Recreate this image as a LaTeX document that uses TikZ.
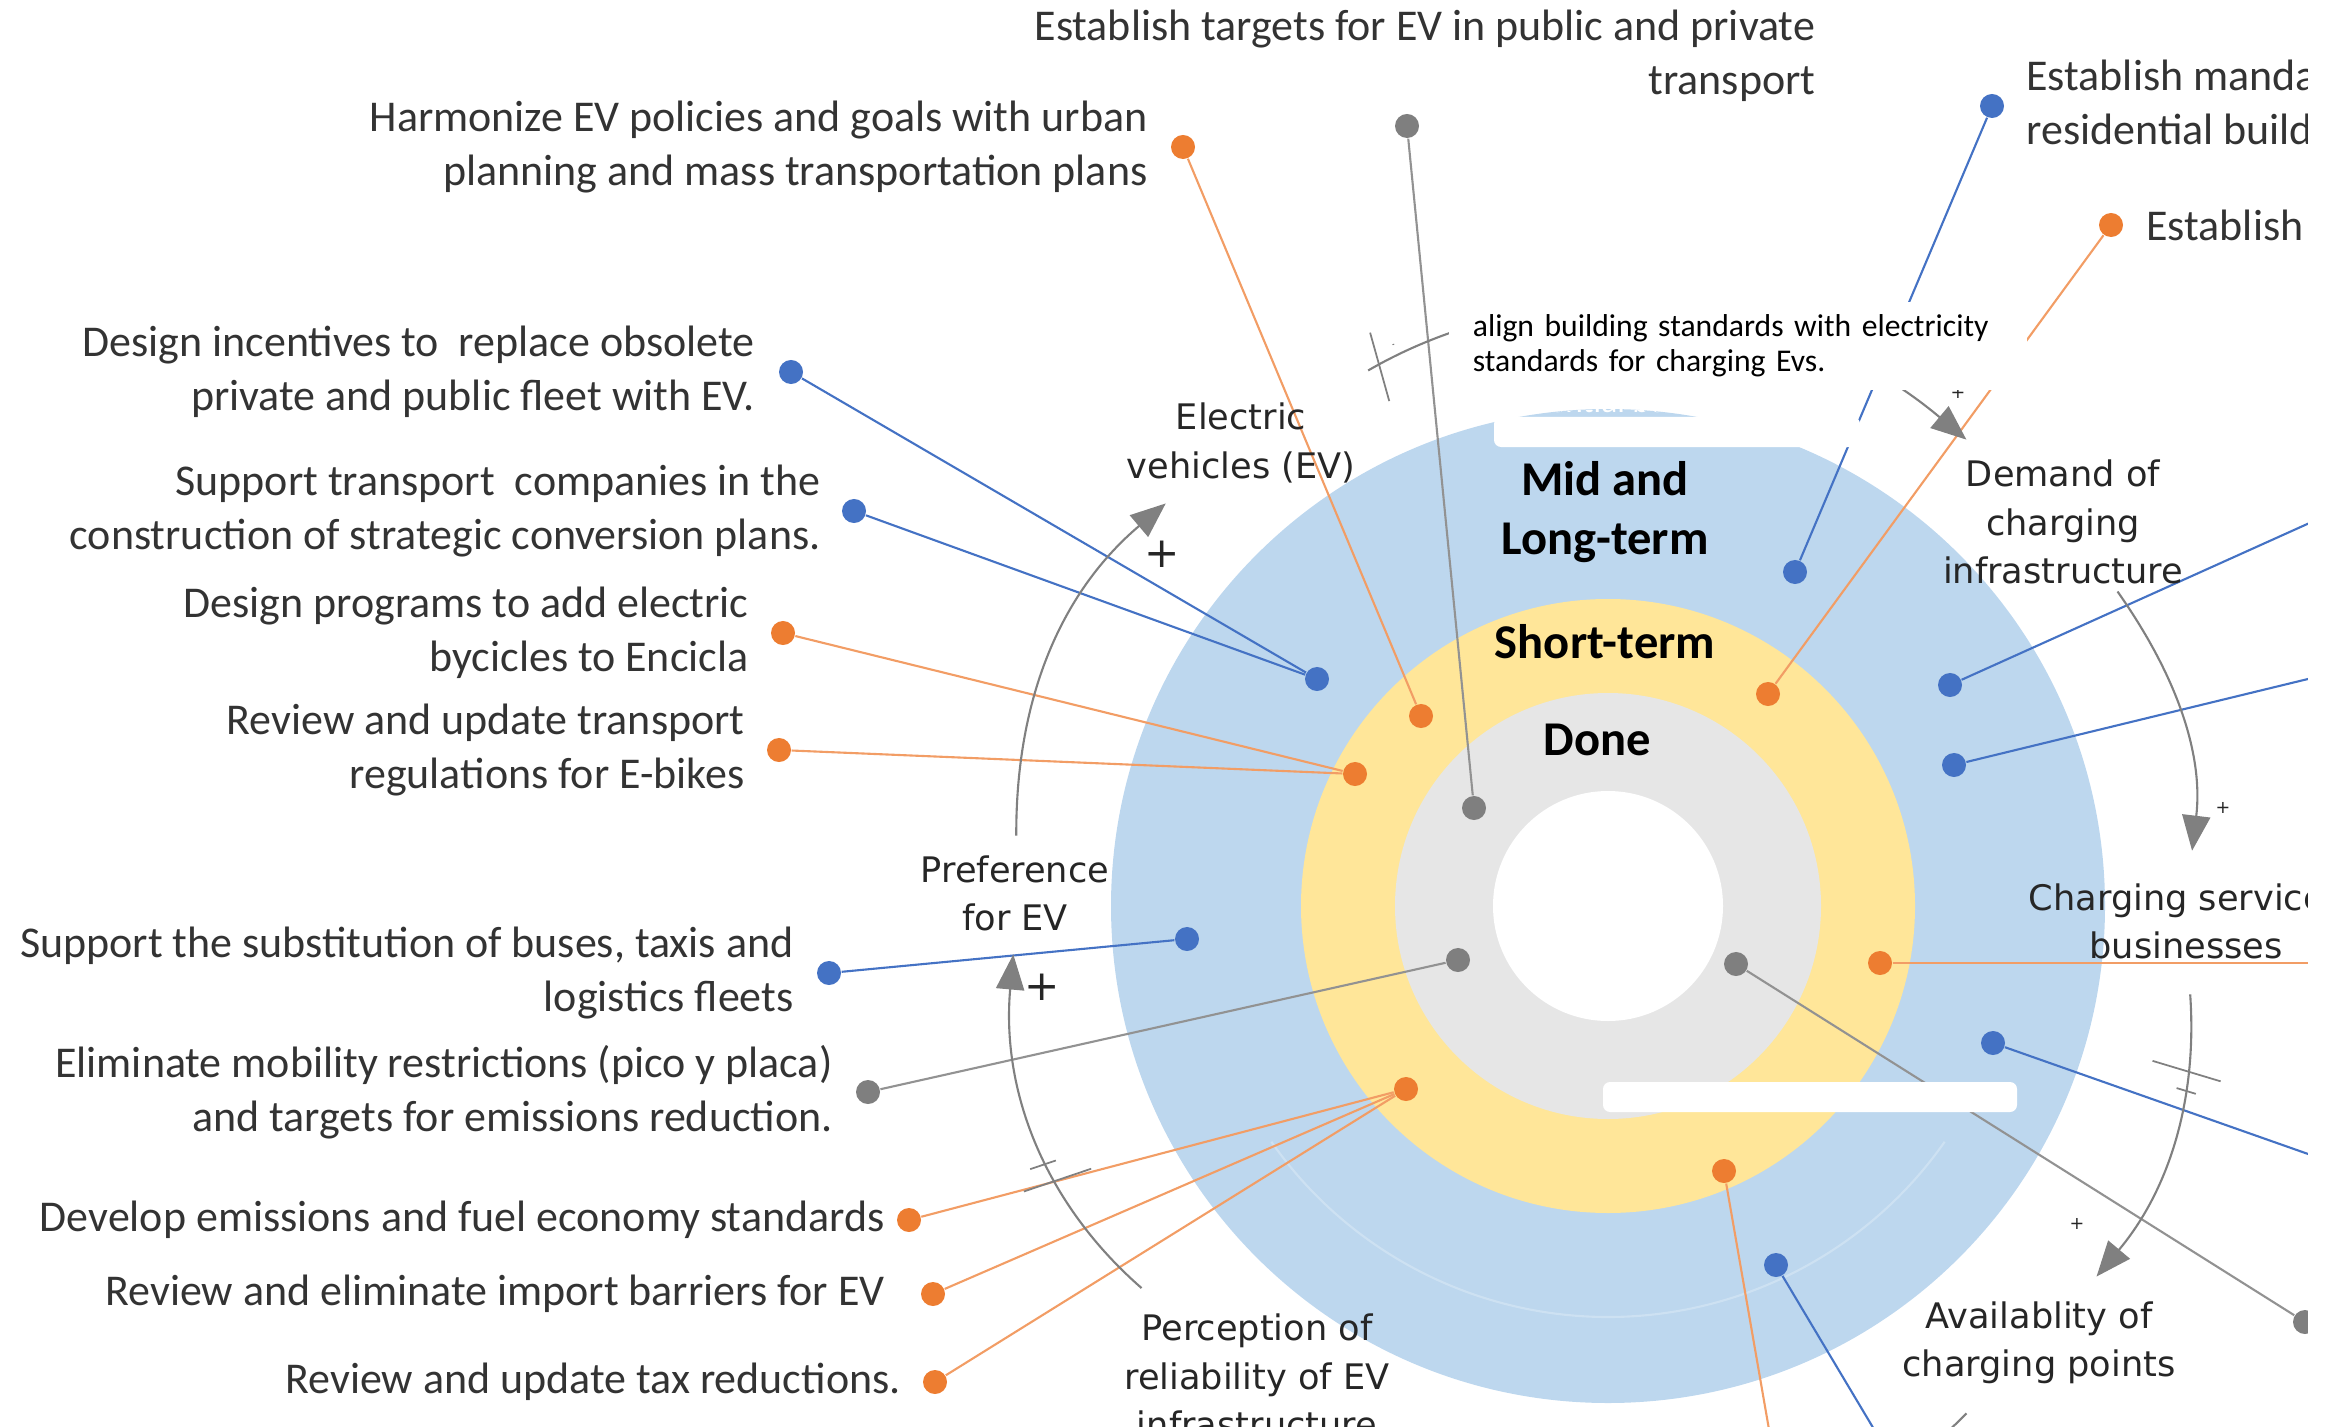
\documentclass[tikz,border=0pt]{standalone}
\usepackage{fontspec}
\setmainfont{Carlito}
\newfontfamily\loopfont{DejaVu Sans}
\usetikzlibrary{positioning,arrows.meta,decorations.markings}

\definecolor{ringmid}{HTML}{BDD7EE}
\definecolor{ringshort}{HTML}{FFE699}
\definecolor{ringdone}{HTML}{E6E6E6}
\definecolor{polblue}{HTML}{4472C4}
\definecolor{polorange}{HTML}{ED7D31}
\definecolor{polgray}{HTML}{7F7F7F}
\definecolor{loopgray}{HTML}{808080}

\tikzset{
  pdot/.style={circle, fill=#1, inner sep=0pt, minimum size=0.24cm},
  plink/.style={draw=#1, line width=0.6pt},
  policy/.style={inner sep=0pt, text=black!80, font=\fontsize{12.5}{15.2}\selectfont},
  loopvar/.style={inner sep=2pt, align=center, text=black!85, font=\loopfont\fontsize{10}{13.7}\selectfont},
  horizon/.style={align=center, font=\bfseries\fontsize{13.8}{17}\selectfont},
  causal/.style={draw=loopgray, line width=0.6pt, -{Triangle[length=10pt,width=8pt]}},
  delaymark/.style={postaction={decorate, decoration={markings, mark=at position #1 with {
      \draw[-, loopgray, line width=0.5pt] (-4pt,-10pt) -- (-1pt,10pt) (1.5pt,-10pt) -- (4.5pt,10pt);}}}},
  polarity/.style={inner sep=0pt, text=black!85, font=\loopfont\fontsize{#1}{#1}\selectfont},
  notebox/.style={fill=white, inner xsep=0.24cm, text width=5.3cm, minimum height=0.87cm,
      align=left, text=black, font=\fontsize{9}{10}\selectfont},
}

\begin{document}
\begin{tikzpicture}[x=0.01cm, y=0.01cm]
  \useasboundingbox (0,0) rectangle (2330,1426);
  \coordinate (c) at (1608,520);

  % time horizon rings
  \fill[ringmid] (c) circle[radius=497];
  \fill[ringshort] (c) circle[radius=307];
  \fill[ringdone] (c) circle[radius=213];
  \fill[white] (c) circle[radius=115];
  \draw[white, opacity=0.25, line width=0.6pt] ([shift={(215:411)}]c) arc[start angle=215, end angle=325, radius=411];
  \begin{scope}
    \clip (c) circle[radius=497];
    \node[inner sep=0pt, anchor=west, text=white, font=\fontsize{9.5}{10}\selectfont] (hiddentxt) at (1482,1022) {residential buildings};
  \end{scope}

  % policy dots, outer ones next to the labels
  \foreach \n/\p/\col in {harmonize/{1183,1279}/polorange, targets/{1407,1300}/polgray,
      mandate/{1992,1320}/polblue, establish/{2111,1201}/polorange,
      incentives/{791,1054}/polblue, companies/{854,915}/polblue,
      elbikes/{783,793}/polorange, ebikerules/{779,676}/polorange,
      fleets/{829,453}/polblue, picoplaca/{868,334}/polgray,
      fuelstd/{909,206}/polorange, imports/{933,132}/polorange,
      taxes/{935,44}/polorange, offedge/{2305,104}/polgray}
    \node[pdot=\col] (\n) at (\p) {};
  % and the ones placed on the rings
  \foreach \n/\p/\col in {sA/{1421,710}/polorange, dA/{1474,618}/polgray,
      mA/{1795,854}/polblue, sB/{1768,732}/polorange, mB/{1317,747}/polblue,
      sC/{1355,652}/polorange, mC/{1187,487}/polblue, dB/{1458,466}/polgray,
      sD/{1406,337}/polorange, mD/{1950,741}/polblue, mE/{1954,661}/polblue,
      sE/{1880,463}/polorange, mF/{1993,383}/polblue, dC/{1736,462}/polgray,
      sF/{1724,255}/polorange, mG/{1776,161}/polblue}
    \node[pdot=\col] (\n) at (\p) {};

  \coordinate (e1) at (2345,919);
  \coordinate (e2) at (2345,756);
  \coordinate (e3) at (2345,463);
  \coordinate (e4) at (2345,259);
  \coordinate (e5) at (1771,-15);
  \coordinate (e6) at (1881,-15);

  \foreach \a/\b/\col in {harmonize/sA/polorange!75, targets/dA/polgray!85,
      mandate/mA/polblue, establish/sB/polorange!75, incentives/mB/polblue,
      companies/mB/polblue, elbikes/sC/polorange!75, ebikerules/sC/polorange!75,
      fleets/mC/polblue, picoplaca/dB/polgray!85, fuelstd/sD/polorange!75,
      imports/sD/polorange!75, taxes/sD/polorange!75, mD/e1/polblue,
      mE/e2/polblue, sE/e3/polorange!75, mF/e4/polblue, dC/offedge/polgray!85,
      sF/e5/polorange!75, mG/e6/polblue}
    \draw[plink=\col] (\a) -- (\b);

  % causal loop
  \node[loopvar] (ev) at (1241,983) {Electric\\vehicles (EV)};
  \node[loopvar] (demand) at (2063,904) {Demand of\\charging\\infrastructure};
  \node[loopvar] (services) at (2186,505) {Charging services\\businesses};
  \node[loopvar] (avail) at (2039,83) {Availablity of\\charging points};
  \node[loopvar] (percep) at (1257,50) {Perception of\\reliability of EV\\infrastructure};
  \node[loopvar] (pref) at (1015,533) {Preference\\for EV};

  \draw[causal, shorten <=0.12cm, shorten >=0.2cm] (pref) to[bend left=25] (ev);
  \draw[causal, delaymark=0.1, shorten <=0.5cm, shorten >=0.2cm] (ev) to[bend left=35] (demand);
  \draw[causal, shorten >=0.25cm] (demand) to[bend left=21] (services);
  \draw[causal, delaymark=0.32, shorten <=0.28cm, shorten >=0.23cm] (services) to[bend left=22] (avail);
  \draw[causal, shorten <=0.3cm] (avail) to[bend left=41] (percep);
  \draw[causal, delaymark=0.42, shorten <=0.28cm, shorten >=0.16cm] (percep) to[bend left=27] (pref);

  \node[polarity=12] (plusA) at (1162,872) {+};
  \node[polarity=12] (plusB) at (1042,439) {+};
  \node[polarity=5] (plusC) at (1958,1033) {+};
  \node[polarity=5] (plusD) at (2223,618) {+};
  \node[polarity=5] (plusE) at (2077,202) {+};

  % white patches over the chart
  \fill[white, rounded corners=2pt] (1494,979) rectangle (1860,1009);
  \fill[white, rounded corners=2pt] (1603,314) rectangle (2017,344);
  \node[notebox] (note) at (1738,1080) {align building standards with electricity\\standards for charging Evs.};

  % ring titles
  \node[horizon] (midlong) at (1605,914) {Mid and\\Long-term};
  \node[horizon] (short) at (1605,784) {Short-term};
  \node[horizon] (done) at (1597,686) {Done};

  % policy labels
  \node[policy, align=right, left=0.22cm of harmonize] (harmonizetxt) {Harmonize EV policies and goals with urban\\planning and mass transportation plans};
  \node[policy, align=right, anchor=east] (targetstxt) at (1816,1370) {Establish targets for EV in public and private\\transport};
  \node[policy, align=left, right=0.21cm of mandate] (mandatetxt) {Establish mandatory\\residential buildings};
  \node[policy, right=0.22cm of establish] (establishtxt) {Establish};
  \node[policy, align=right, left=0.23cm of incentives] (incentivestxt) {Design incentives to~ replace obsolete\\private and public fleet with EV.};
  \node[policy, align=right, left=0.20cm of companies] (companiestxt) {Support transport~ companies in the\\construction of strategic conversion plans.};
  \node[policy, align=right, left=0.21cm of elbikes] (elbikestxt) {Design programs to add electric\\bycicles to Encicla};
  \node[policy, align=right, left=0.21cm of ebikerules] (ebikerulestxt) {Review and update transport\\regulations for E-bikes};
  \node[policy, align=right, left=0.22cm of fleets] (fleetstxt) {Support the substitution of buses, taxis and\\logistics fleets};
  \node[policy, align=right, left=0.22cm of picoplaca] (picoplacatxt) {Eliminate mobility restrictions (pico y placa)\\and targets for emissions reduction.};
  \node[policy, left=0.11cm of fuelstd] (fuelstdtxt) {Develop emissions and fuel economy standards};
  \node[policy, left=0.35cm of imports] (importstxt) {Review and eliminate import barriers for EV};
  \node[policy, left=0.21cm of taxes] (taxestxt) {Review and update tax reductions.};

  % the chart stops short of the right margin
  \fill[white] (2308,-1) rectangle (2331,1427);
\end{tikzpicture}
\end{document}
